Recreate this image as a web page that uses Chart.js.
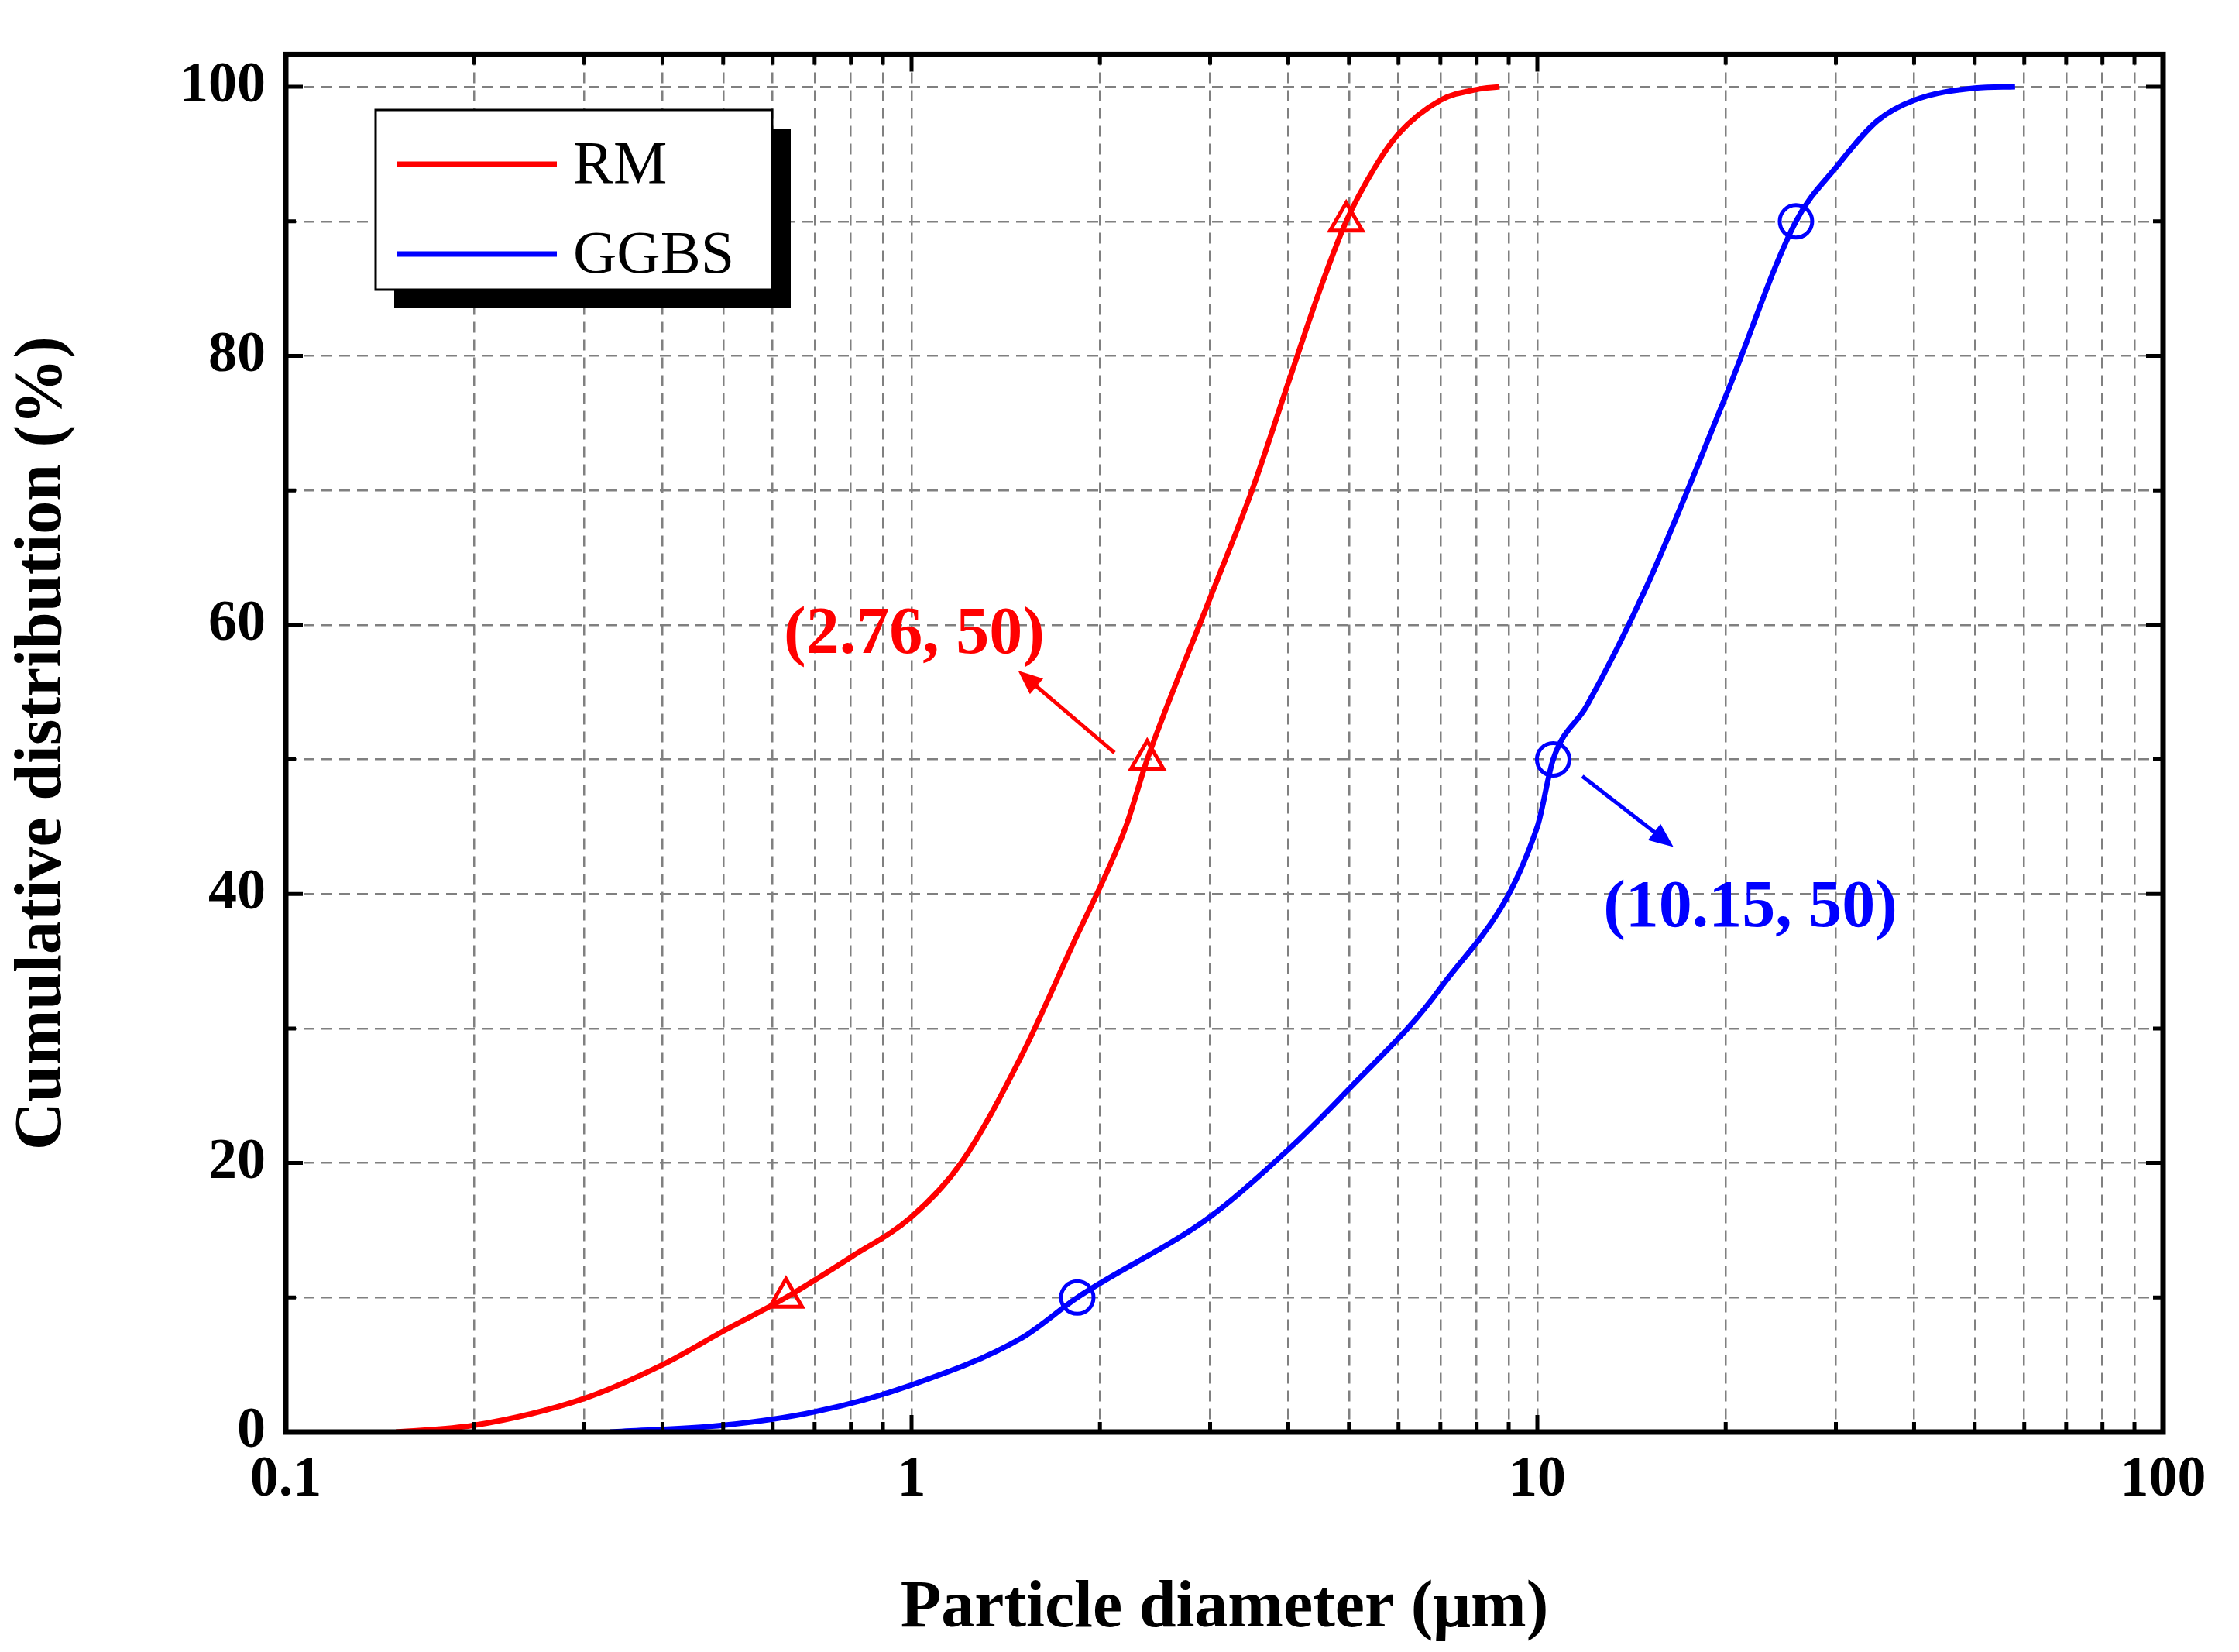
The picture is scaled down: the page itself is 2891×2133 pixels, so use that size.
<!DOCTYPE html>
<html><head><meta charset="utf-8">
<script src="https://cdn.jsdelivr.net/npm/chart.js@4"></script>
<style>html,body{margin:0;padding:0;background:#fff}</style>
</head><body>
<div style="width:2891px;height:2133px"><canvas id="c" width="2891" height="2133"></canvas></div>
<script>
const rmX=[0.15,0.2,0.3,0.4,0.5,0.63,0.8,1,1.2,1.5,1.8,2.2,2.38,3,3.5,4,4.5,4.95,5.5,6,7,8,8.7];
const rmY=[0,0.5,2.5,5,7.5,10,13,16,20,28,36,45,50,62,70,78,85,90,94,96.5,99,99.8,100];
const ggX=[0.33,0.5,0.7,1,1.5,1.84,3,4,5,7,10,10.6,12,15,20,25.9,30,35,40,50,58];
const ggY=[0,0.5,1.5,3.5,7,10,16,21,25.5,33,45,50,54,63,77,90,94,97.5,99,99.9,100];
const rmMarkX=[0.63,2.38,4.95], rmMarkY=[10,50,90];
const ggMarkX=[1.84,10.6,25.9], ggMarkY=[10,50,90];
const xTicks=[0.1,0.2,0.3,0.4,0.5,0.6,0.7,0.8,0.9,1,2,3,4,5,6,7,8,9,10,20,30,40,50,60,70,80,90,100];
const xLabels=[0.1,1,10,100];
const annotations=[
 {text:'(2.76, 50)',color:'#ff0000',tx:1.01,ty:59.2,ax0:2.11,ay0:50.5,ax1:1.48,ay1:56.6},
 {text:'(10.15, 50)',color:'#0000ff',tx:21.9,ty:38.9,ax0:11.8,ay0:48.75,ax1:16.5,ay1:43.5}
];
const pts=(xs,ys)=>xs.map((x,i)=>({x,y:ys[i]}));
const F='"Liberation Serif","Times New Roman",serif';
const deco={id:'deco',afterDraw(ch){
 const c=ch.ctx,a=ch.chartArea,xs=ch.scales.x,ys=ch.scales.y;
 c.save();
 // ticks inward
 c.strokeStyle='#000';c.lineWidth=5;
 for(let v=0;v<=100;v+=10){const y=ys.getPixelForValue(v);const L=v%20==0?22:13;
  c.beginPath();c.moveTo(a.left,y);c.lineTo(a.left+L,y);c.moveTo(a.right,y);c.lineTo(a.right-L,y);c.stroke();}
 for(const v of xTicks){const x=xs.getPixelForValue(v);const L=xLabels.includes(v)?22:13;
  c.beginPath();c.moveTo(x,a.bottom);c.lineTo(x,a.bottom-L);c.moveTo(x,a.top);c.lineTo(x,a.top+L);c.stroke();}
 c.lineWidth=7;c.strokeRect(a.left,a.top,a.right-a.left,a.bottom-a.top);
 // legend
 c.fillStyle='#000';c.fillRect(509,166,512,232);
 c.fillStyle='#fff';c.fillRect(485,142,512,232);
 c.lineWidth=3;c.strokeRect(485,142,512,232);
 c.lineWidth=7;
 [['RM','#ff0000',212],['GGBS','#0000ff',328]].forEach(([t,col,y])=>{
  c.strokeStyle=col;c.beginPath();c.moveTo(513,y);c.lineTo(719,y);c.stroke();
  c.fillStyle='#000';c.font='78px '+F;c.textBaseline='middle';c.textAlign='left';c.fillText(t,740,y+4);});
 // annotations
 for(const an of annotations){
  c.fillStyle=an.color;c.strokeStyle=an.color;c.font='bold 86px '+F;c.textAlign='center';c.textBaseline='middle';
  c.fillText(an.text,xs.getPixelForValue(an.tx),ys.getPixelForValue(an.ty));
  const x0=xs.getPixelForValue(an.ax0),y0=ys.getPixelForValue(an.ay0),x1=xs.getPixelForValue(an.ax1),y1=ys.getPixelForValue(an.ay1);
  const ang=Math.atan2(y1-y0,x1-x0),h=34;
  c.lineWidth=5;c.beginPath();c.moveTo(x0,y0);c.lineTo(x1-Math.cos(ang)*h*0.8,y1-Math.sin(ang)*h*0.8);c.stroke();
  c.beginPath();c.moveTo(x1,y1);c.lineTo(x1-h*Math.cos(ang-0.4),y1-h*Math.sin(ang-0.4));c.lineTo(x1-h*Math.cos(ang+0.4),y1-h*Math.sin(ang+0.4));c.closePath();c.fill();
 }
 c.restore();
}};
new Chart(document.getElementById('c'),{
 type:'line',
 data:{datasets:[
  {data:pts(rmX,rmY),borderColor:'#ff0000',borderWidth:7,pointRadius:0,tension:0.4,cubicInterpolationMode:'monotone',order:2},
  {data:pts(ggX,ggY),borderColor:'#0000ff',borderWidth:7,pointRadius:0,tension:0.4,cubicInterpolationMode:'monotone',order:2},
  {data:pts(rmMarkX,rmMarkY),showLine:false,pointStyle:'triangle',pointRadius:24,pointBorderWidth:5,pointBorderColor:'#ff0000',pointBackgroundColor:'rgba(0,0,0,0)',order:1},
  {data:pts(ggMarkX,ggMarkY),showLine:false,pointStyle:'circle',pointRadius:21,pointBorderWidth:5,pointBorderColor:'#0000ff',pointBackgroundColor:'rgba(0,0,0,0)',order:1}
 ]},
 options:{responsive:false,animation:false,
  layout:{padding:{top:37,right:98,left:0,bottom:0}},
  plugins:{legend:{display:false},tooltip:{enabled:false}},
  scales:{
   x:{type:'logarithmic',min:0.1,max:100,
    afterBuildTicks:s=>{s.ticks=xTicks.map(v=>({value:v}));},
    afterFit:s=>{s.height=284;},
    ticks:{autoSkip:false,maxRotation:0,padding:18,color:'#000',font:{family:F,weight:'bold',size:74},
     callback:(v)=>xLabels.includes(v)?String(v):''},
    grid:{color:'#808080',lineWidth:2.5,tickLength:0,drawTicks:false},
    border:{display:false,dash:[14,9]},
    title:{display:true,text:'Particle diameter (μm)',color:'#000',font:{family:F,weight:'bold',size:86},padding:{top:0}}
   },
   y:{min:0,max:102.4,
    afterBuildTicks:s=>{s.ticks=[0,10,20,30,40,50,60,70,80,90,100].map(v=>({value:v}));},
    afterFit:s=>{s.width=369;},
    ticks:{autoSkip:false,padding:26,color:'#000',font:{family:F,weight:'bold',size:74},
     callback:v=>v%20==0?String(v):''},
    grid:{color:'#808080',lineWidth:2.5,drawTicks:false},
    border:{display:false,dash:[14,9]},
    title:{display:true,text:'Cumulative distribution (%)',color:'#000',font:{family:F,weight:'bold',size:86},padding:{bottom:10}}
   }
  }
 },
 plugins:[deco]
});
</script>
</body></html>
